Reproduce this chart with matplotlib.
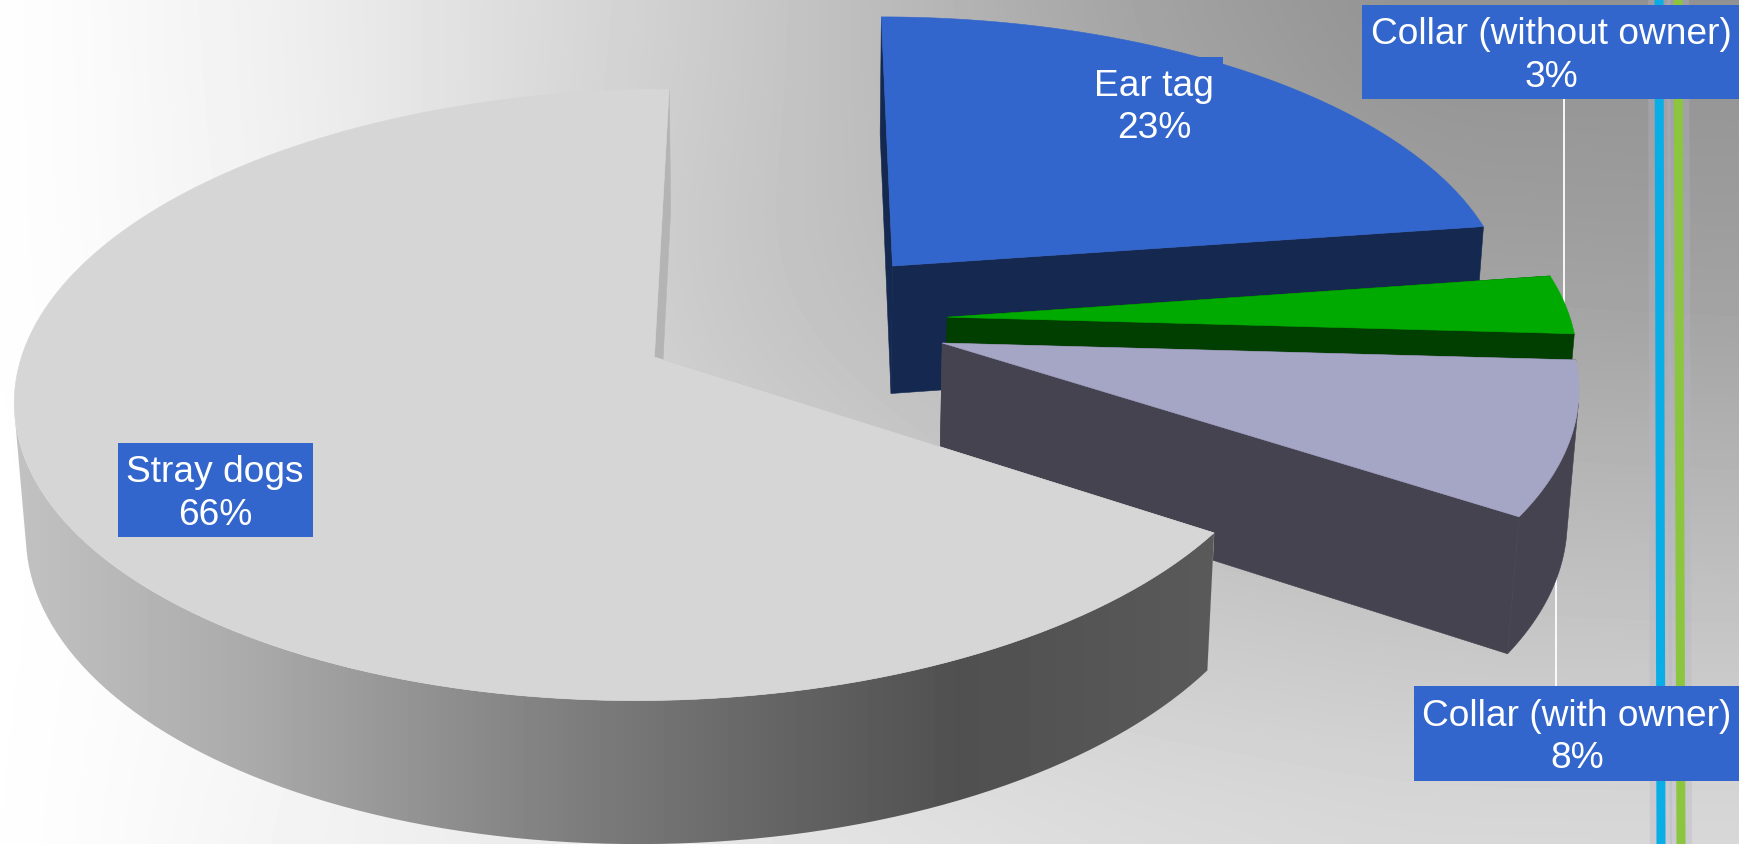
"""Exploded 3D pie of dog identification types, drawn with a small perspective model."""

import matplotlib.pyplot as plt
import numpy as np
from matplotlib.patches import Polygon, Rectangle

plt.rcParams["font.family"] = ["Liberation Sans", "DejaVu Sans"]

# Slices clockwise from 12 o'clock
labels = ["Ear tag", "Collar (without owner)", "Collar (with owner)", "Stray dogs"]
values = [22.7, 3.2, 8.27, 65.83]

top_colors = ["#3366cc", "#00aa00", "#a5a5c6", "#d6d6d6"]
side_colors = ["#152850", "#003f00", "#44434f", "#b4b4b4"]

# Slice tip on the pie plane (explosion)
tip_x = [0.1715, 0.2558, 0.245, -0.211]
tip_y = [0.314, 0.1346, 0.0467, 0.0]

# Camera: fitted to the corners of the slices
UC, V0 = 788, 357
A, B, C = 633, 301, 133
K, M = 0.124, 0.015

# Background gray levels on a coarse grid
bg_x = [0, 300, 700, 1100, 1400, 1739]
bg_y = [0, 280, 560, 844]
bg_gray = [
    [255, 238, 205, 165, 145, 145],
    [255, 240, 200, 176, 162, 160],
    [255, 248, 212, 198, 192, 190],
    [255, 242, 232, 222, 218, 218],
]


def project(x, y, z=0.0):
    w = 1 + K * y + M * z
    return UC + A * x / w, V0 + (-B * y + C * z) / w


def rim(cx, cy, a0, a1, z=0.0):
    t = np.radians(np.linspace(a0, a1, 160))
    return project(cx + np.sin(t), cy + np.cos(t), z)


def fill(ax, u, v, color, z):
    ax.add_patch(Polygon(np.column_stack([u, v]), closed=True, facecolor=color,
                         edgecolor=color, linewidth=0.4, zorder=z))


def cut_face(ax, cx, cy, a, color, z):
    x1, y1 = cx + np.sin(np.radians(a)), cy + np.cos(np.radians(a))
    u0, v0 = project(cx, cy)
    u1, v1 = project(x1, y1)
    u2, v2 = project(x1, y1, 1)
    u3, v3 = project(cx, cy, 1)
    fill(ax, [u0, u1, u2, u3], [v0, v1, v2, v3], color, z)


def front_wall(ut, vt, ub, vb):
    # Keep only the part of the outer wall that faces the camera
    du, dv = np.diff(ut), np.diff(vt)
    facing = du * (vb[:-1] - vt[:-1]) - dv * (ub[:-1] - ut[:-1]) < 0
    if not facing.any():
        return None
    idx = np.where(facing)[0]
    i0, i1 = idx[0], idx[-1] + 2
    return (np.r_[ut[i0:i1], ub[i0:i1][::-1]], np.r_[vt[i0:i1], vb[i0:i1][::-1]])


def smooth(a, n=25):
    # Box blur along both axes so the coarse grid leaves no creases
    kernel = np.ones(n) / n
    for axis in (0, 1):
        pad = [(n, n) if k == axis else (0, 0) for k in (0, 1)]
        padded = np.pad(a, pad, mode="edge")
        blurred = np.apply_along_axis(np.convolve, axis, padded, kernel, mode="same")
        a = np.take(blurred, np.arange(n, n + a.shape[axis]), axis=axis)
    return a


fig = plt.figure(figsize=(17.39, 8.44), dpi=100)
ax = fig.add_axes([0, 0, 1, 1])

# Background
xx = np.arange(0, 1739, 8)
yy = np.arange(0, 844, 8)
rows = np.array([np.interp(xx, bg_x, r) for r in bg_gray])
grid = np.array([np.interp(yy, bg_y, rows[:, i]) for i in range(len(xx))]).T
ax.imshow(smooth(grid), cmap="gray", vmin=0, vmax=255, extent=(0, 1739, 844, 0),
          aspect="auto", interpolation="bilinear", zorder=0)

# Vertical stripes behind the chart
for x0, x1, color in [(1659, 1661, "#0aaee6"), (1678, 1681, "#8cc63f")]:
    ax.plot([x0, x1], [0, 844], color="#b4b4c4", lw=16, alpha=0.35, zorder=1)
    ax.plot([x0, x1], [0, 844], color=color, lw=6.5, zorder=1.1)

# Leader lines
ax.plot([1564, 1564], [99, 305], color="white", lw=1.3, zorder=1.5)
ax.plot([1556, 1556], [574, 686], color="white", lw=1.3, zorder=1.5)

# Slices, back to front
start = 0.0
for i, val in enumerate(values):
    end = start + val * 3.6
    z = 2 + i
    cut_face(ax, tip_x[i], tip_y[i], start, side_colors[i], z)
    cut_face(ax, tip_x[i], tip_y[i], end, side_colors[i], z)

    ut, vt = rim(tip_x[i], tip_y[i], start, end)
    ub, vb = rim(tip_x[i], tip_y[i], start, end, 1)
    wall = front_wall(ut, vt, ub, vb)
    if wall is not None:
        if labels[i] == "Stray dogs":
            # The long outer wall is shaded from left to right
            clip = Polygon(np.column_stack(wall), closed=True, transform=ax.transData)
            shade = np.interp(np.arange(0, 1739, 4), [0, 250, 500, 780, 960, 1220],
                              [195, 170, 135, 100, 80, 90])
            im = ax.imshow(shade[None, :], cmap="gray", vmin=0, vmax=255,
                           extent=(0, 1739, 844, 0), aspect="auto", zorder=z + 0.1)
            im.set_clip_path(clip)
        else:
            fill(ax, wall[0], wall[1], side_colors[i], z + 0.1)

    u0, v0 = project(tip_x[i], tip_y[i])
    fill(ax, np.r_[u0, ut], np.r_[v0, vt], top_colors[i], z + 0.2)
    start = end

# Data label boxes: left, top, right, bottom
boxes = [(1085, 57, 1223, 150), (1362, 5, 1739, 99), (1414, 686, 1739, 781), (118, 443, 313, 537)]
text_x = [1154, 1551, 1577, 215]
for lab, val, (x0, y0, x1, y1), tx in zip(labels, values, boxes, text_x):
    ax.add_patch(Rectangle((x0, y0), x1 - x0, y1 - y0, facecolor="#3366cc", edgecolor="none", zorder=10))
    ax.text(tx, (y0 + y1) / 2 + 4, f"{lab}\n{val:.0f}%", color="white", fontsize=26.7, ha="center",
            va="center", linespacing=1.29, zorder=11)

ax.set_xlim(0, 1739)
ax.set_ylim(844, 0)
ax.axis("off")

fig.savefig("out.png", dpi=100)
